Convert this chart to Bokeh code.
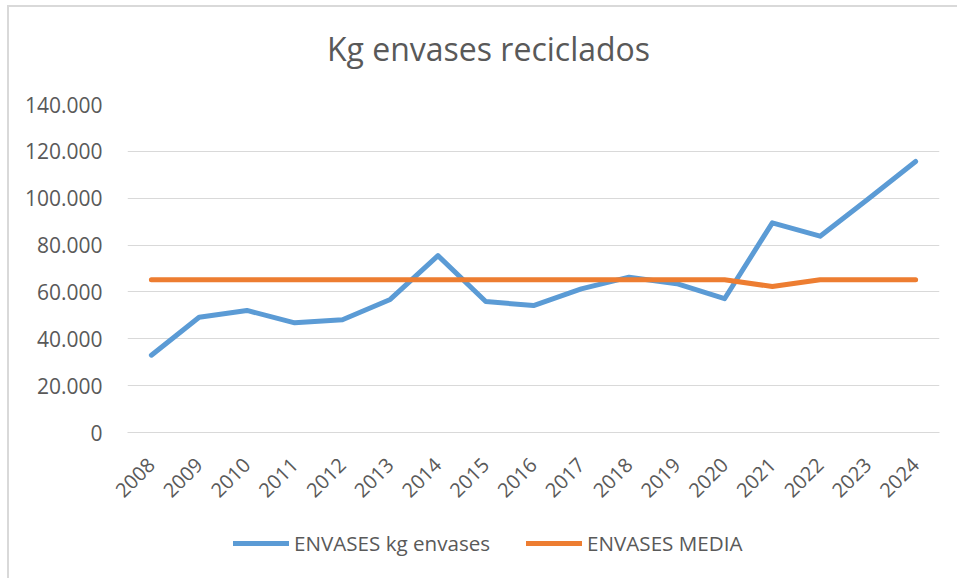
from bokeh.plotting import figure
from bokeh.layouts import column
from bokeh.models import Range1d, FixedTicker, Legend, LegendItem, Label
from bokeh.embed import file_html
from bokeh.resources import INLINE

years = ["2008", "2009", "2010", "2011", "2012", "2013", "2014", "2015", "2016",
         "2017", "2018", "2019", "2020", "2021", "2022", "2023", "2024"]
kg_envases = [33000, 49200, 52100, 46800, 48100, 56800, 75500, 55900, 54200,
              61300, 66300, 63500, 57100, 89500, 83800, 99600, 115700]
media = [65200, 65200, 65200, 65200, 65200, 65200, 65200, 65200, 65200,
         65200, 65200, 65200, 65200, 62300, 65200, 65200, 65200]
y_ticks = [0, 20000, 40000, 60000, 80000, 100000, 120000, 140000]
y_tick_labels = ["0", "20.000", "40.000", "60.000", "80.000", "100.000", "120.000", "140.000"]
title_text = "Kg envases reciclados"
series_names = ["ENVASES kg envases", "ENVASES MEDIA"]

TEXT = "#595959"
GRID = "#D9D9D9"
BLUE = "#5B9BD5"
ORANGE = "#ED7D31"
FONT = "Open Sans"
W = 948
BL, BR = 118, 18  # left / right borders so that every frame spans the same columns
NAN = float("nan")

# ---- title strip ----
p0 = figure(width=W, height=70, x_range=Range1d(0, 812), y_range=Range1d(0, 70),
            output_backend="svg", toolbar_location=None, x_axis_type=None, y_axis_type=None,
            min_border_left=BL, min_border_right=BR, min_border_top=0, min_border_bottom=0)
p0.outline_line_color = None
p0.background_fill_color = "white"
p0.border_fill_color = "white"
p0.add_layout(Label(x=361, y=29, text=title_text, text_align="center",
                    text_baseline="alphabetic", text_font=FONT, text_font_size="32px",
                    text_color=TEXT))

# ---- main chart ----
p = figure(width=W, height=435, x_range=years, y_range=Range1d(0, 140000),
           output_backend="svg", toolbar_location=None,
           min_border_left=BL, min_border_right=BR, min_border_top=27, min_border_bottom=80)
p.outline_line_color = None
p.background_fill_color = "white"
p.border_fill_color = "white"

p.xgrid.grid_line_color = None
p.ygrid.grid_line_color = GRID
p.ygrid.grid_line_width = 1

p.yaxis.ticker = FixedTicker(ticks=y_ticks)
p.yaxis.major_label_overrides = {t: l for t, l in zip(y_ticks, y_tick_labels)}
p.yaxis.axis_line_color = None
p.yaxis.major_tick_line_color = None
p.yaxis.minor_tick_line_color = None
p.yaxis.major_label_standoff = 19
p.yaxis.major_label_text_font = FONT
p.yaxis.major_label_text_font_size = "21px"
p.yaxis.major_label_text_color = TEXT

p.xaxis.axis_line_color = GRID
p.xaxis.major_tick_line_color = None
p.xaxis.minor_tick_line_color = None
p.xaxis.major_label_orientation = 0.785398
p.xaxis.major_label_standoff = 23
p.xaxis.major_label_text_font = FONT
p.xaxis.major_label_text_font_size = "20px"
p.xaxis.major_label_text_color = TEXT

p.line(years, kg_envases, line_color=BLUE, line_width=5,
       line_cap="round", line_join="round")
p.line(years, media, line_color=ORANGE, line_width=5,
       line_cap="round", line_join="round")

# ---- legend strip ----
p2 = figure(width=W, height=66, x_range=Range1d(0, 812), y_range=Range1d(0, 66),
            output_backend="svg", toolbar_location=None, x_axis_type=None, y_axis_type=None,
            min_border_left=BL, min_border_right=BR, min_border_top=0, min_border_bottom=0)
p2.outline_line_color = None
p2.background_fill_color = "white"
p2.border_fill_color = "white"
l1 = p2.line(x=[NAN], y=[NAN], line_color=BLUE, line_width=5, line_cap="round")
l2 = p2.line(x=[NAN], y=[NAN], line_color=ORANGE, line_width=5, line_cap="round")
legend = Legend(items=[LegendItem(label=series_names[0], renderers=[l1]),
                       LegendItem(label=series_names[1], renderers=[l2])],
                orientation="horizontal", location=(106, 21),
                glyph_width=56, glyph_height=26, label_standoff=5, spacing=36,
                padding=0, margin=0, border_line_color=None,
                background_fill_alpha=0, label_text_font=FONT,
                label_text_font_size="20.6px", label_text_color=TEXT)
p2.add_layout(legend, "center")

layout = column(p0, p, p2, spacing=0,
                styles={"margin-left": "7px", "margin-top": "5px",
                        "border-left": "2px solid #D9D9D9", "border-top": "2px solid #D9D9D9"})

open("out.html", "w").write(file_html(layout, INLINE))
